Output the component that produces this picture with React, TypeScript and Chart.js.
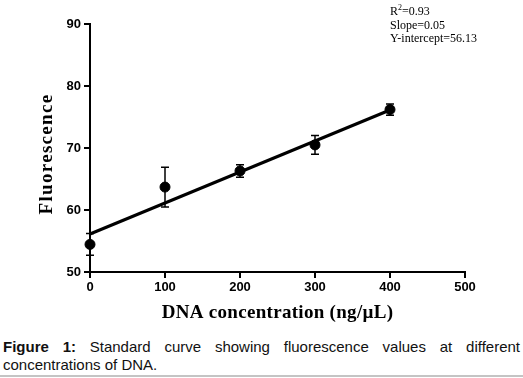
import React, { useEffect, useRef } from "react";
import { Chart, registerables } from "chart.js";

Chart.register(...registerables);

const xValues = [0, 100, 200, 300, 400];
const yMeans = [54.45, 63.7, 66.3, 70.5, 76.2];
const yErrors = [1.75, 3.2, 1.0, 1.5, 0.9];
const fitX = [0, 400];
const fitY = [56.13, 76.13];
const xTicks = [0, 100, 200, 300, 400, 500];
const yTicks = [50, 60, 70, 80, 90];
const statsLines = ["=0.93", "Slope=0.05", "Y-intercept=56.13"];
const xTitle = "DNA concentration (ng/\u00b5L)";
const yTitle = "Fluorescence";

const SANS = 'Arial, "Liberation Sans", sans-serif';
const SERIF = '"Times New Roman", "Liberation Serif", serif';

const errorBarPlugin = {
  id: "errorBars",
  beforeDatasetsDraw(chart: any) {
    const ctx = chart.ctx;
    const xs = chart.scales.x;
    const ys = chart.scales.y;
    ctx.save();
    ctx.strokeStyle = "#000";
    ctx.lineWidth = 1.5;
    xValues.forEach((xv, i) => {
      const px = xs.getPixelForValue(xv);
      const top = ys.getPixelForValue(yMeans[i] + yErrors[i]);
      const bot = ys.getPixelForValue(yMeans[i] - yErrors[i]);
      const cap = 4;
      ctx.beginPath();
      ctx.moveTo(px, top);
      ctx.lineTo(px, bot);
      ctx.moveTo(px - cap, top);
      ctx.lineTo(px + cap, top);
      ctx.moveTo(px - cap, bot);
      ctx.lineTo(px + cap, bot);
      ctx.stroke();
    });
    ctx.restore();
  },
};

const textPlugin = {
  id: "texts",
  afterDraw(chart: any) {
    const ctx = chart.ctx;
    const a = chart.chartArea;
    ctx.save();
    ctx.fillStyle = "#000";
    ctx.textAlign = "center";
    ctx.textBaseline = "middle";
    ctx.font = `bold 19px ${SERIF}`;
    (ctx as any).letterSpacing = "0.3px";
    ctx.fillText(xTitle, (a.left + a.right) / 2, 313);
    ctx.save();
    (ctx as any).letterSpacing = "1.3px";
    ctx.translate(47, 154);
    ctx.rotate(-Math.PI / 2);
    ctx.fillText(yTitle, 0, 0);
    ctx.restore();
    (ctx as any).letterSpacing = "0px";
    // stats
    ctx.textAlign = "left";
    ctx.textBaseline = "middle";
    ctx.font = `12px ${SERIF}`;
    const x0 = 390;
    ctx.fillText("R", x0, 12);
    const rw = ctx.measureText("R").width;
    ctx.font = `8px ${SERIF}`;
    ctx.fillText("2", x0 + rw, 8);
    const sw = ctx.measureText("2").width;
    ctx.font = `12px ${SERIF}`;
    ctx.fillText(statsLines[0], x0 + rw + sw, 12);
    ctx.fillText(statsLines[1], x0, 25.5);
    ctx.fillText(statsLines[2], x0, 39);
    ctx.restore();
  },
};

export default function App() {
  const ref = useRef<HTMLCanvasElement>(null);

  useEffect(() => {
    document.body.style.margin = "0";
    const canvas = ref.current;
    if (!canvas) return;
    const chart = new Chart(canvas, {
      type: "scatter",
      data: {
        datasets: [
          {
            type: "line",
            data: fitX.map((x, i) => ({ x, y: fitY[i] })),
            borderColor: "#000",
            borderWidth: 3,
            pointRadius: 0,
            fill: false,
            clip: false,
          } as any,
          {
            type: "scatter",
            data: xValues.map((x, i) => ({ x, y: yMeans[i] })),
            backgroundColor: "#000",
            borderColor: "#000",
            pointRadius: 5,
            pointHoverRadius: 5,
            clip: false,
          } as any,
        ],
      },
      options: {
        animation: false,
        responsive: false,
        maintainAspectRatio: false,
        events: [],
        layout: { padding: { left: 0, top: 24, right: 58, bottom: 0 } },
        plugins: {
          legend: { display: false },
          tooltip: { enabled: false },
        },
        scales: {
          x: {
            type: "linear",
            position: "bottom",
            min: 0,
            max: 500,
            afterBuildTicks: (s: any) => {
              s.ticks = xTicks.map((v) => ({ value: v }));
            },
            afterFit: (s: any) => {
              s.height = 58;
            },
            border: { display: true, color: "#000", width: 2 },
            grid: {
              display: true,
              drawOnChartArea: false,
              drawTicks: true,
              tickLength: 6,
              color: "#000",
              lineWidth: 2,
            },
            ticks: {
              color: "#000",
              padding: 2,
              maxRotation: 0,
              font: { family: SANS, size: 13, weight: "bold" },
            },
          },
          y: {
            type: "linear",
            min: 50,
            max: 90,
            afterBuildTicks: (s: any) => {
              s.ticks = yTicks.map((v) => ({ value: v }));
            },
            afterFit: (s: any) => {
              s.width = 90;
            },
            border: { display: true, color: "#000", width: 2 },
            grid: {
              display: true,
              drawOnChartArea: false,
              drawTicks: true,
              tickLength: 6,
              color: "#000",
              lineWidth: 2,
            },
            ticks: {
              color: "#000",
              padding: 3,
              font: { family: SANS, size: 13, weight: "bold" },
            },
          },
        },
      },
      plugins: [errorBarPlugin, textPlugin],
    });
    return () => chart.destroy();
  }, []);

  return (
    <div style={{ position: "relative", width: 523, height: 378, background: "#fff", overflow: "hidden" }}>
      <canvas ref={ref} width={523} height={330} style={{ position: "absolute", left: 0, top: 0, width: 523, height: 330 }} />
      <div
        style={{
          position: "absolute",
          left: 3,
          top: 338,
          width: 517,
          fontFamily: SANS,
          fontSize: 15,
          lineHeight: "18px",
          textAlign: "justify",
          color: "#111",
        }}
      >
        <b>Figure 1:</b> Standard curve showing fluorescence values at different concentrations of DNA.
      </div>
      <div style={{ position: "absolute", left: 0, top: 375, width: 523, height: 2, background: "#c4c4c4" }} />
    </div>
  );
}
